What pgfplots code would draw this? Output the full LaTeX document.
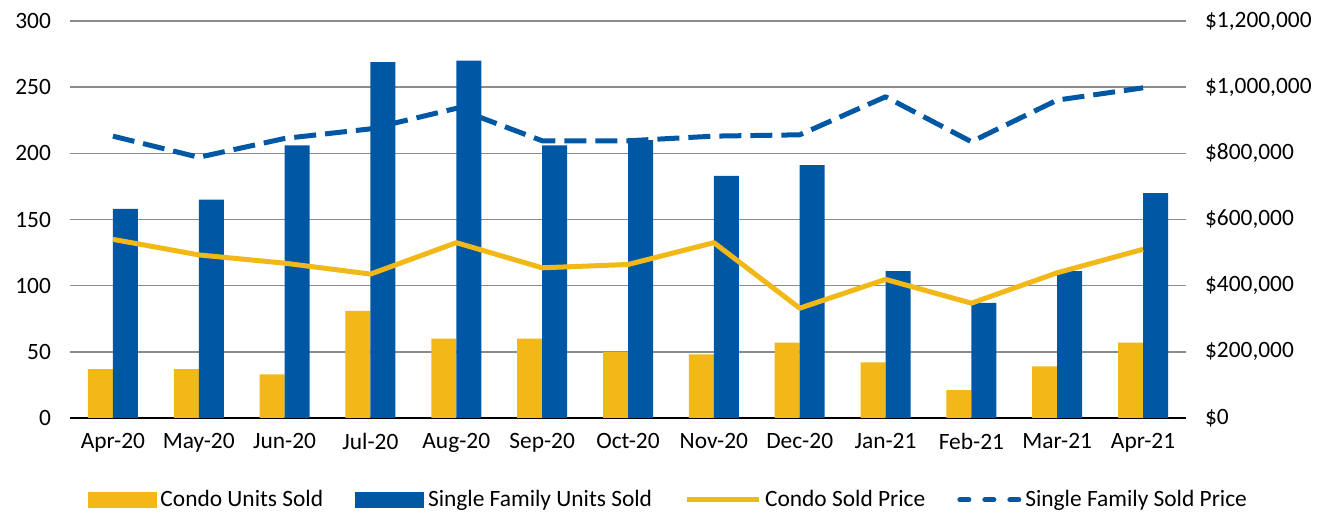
\documentclass[border=0pt]{standalone}
\usepackage{fontspec}
\setmainfont{Carlito}
\usepackage{pgfplots}
\usepackage{pgfplotstable}
\pgfplotsset{compat=1.18}

\definecolor{condo}{HTML}{F2B817}
\definecolor{sfam}{HTML}{0058A5}
\definecolor{gridgray}{HTML}{8C8C8C}
\definecolor{baseline}{HTML}{D9D9D9}

% units sold (left axis) and median sold price (right axis)
\pgfplotstableread{
x condo sf condoprice sfprice
0  37 158 540000 852000
1  37 165 493000 788000
2  33 206 468000 845000
3  81 269 435000 874000
4  60 270 530000 936000
5  60 206 454000 838000
6  50 210 464000 838000
7  48 183 530000 852000
8  57 191 332000 856000
9  42 111 419000 971000
10 21  87 347000 835000
11 39 111 439000 961000
12 57 170 510000 998000
}\salesdata

\begin{document}
\begin{tikzpicture}[font=\fontsize{11.7}{14}\selectfont]
\pgfplotsset{
  every axis/.append style={
    scale only axis, width=558pt, height=198.5pt,
    at={(0,0)}, anchor=south west,
    xmin=-0.5, xmax=12.5,
    major tick length=0pt,
    /pgf/number format/assume math mode=true,
  },
}
\begin{axis}[
  ymin=0, ymax=300, ytick distance=50,
  axis x line*=bottom, axis y line*=left,
  x axis line style={baseline, line width=0.7pt},
  y axis line style={draw=none},
  ymajorgrids, grid style={gridgray, line width=0.7pt},
  xtick={0,...,12},
  xticklabels={Apr-20,May-20,Jun-20,Jul-20,Aug-20,Sep-20,Oct-20,Nov-20,Dec-20,Jan-21,Feb-21,Mar-21,Apr-21},
  xticklabel style={yshift=-4pt},
  yticklabel style={xshift=-6pt},
]
\addplot[ybar, fill=condo, draw=none, bar width=12.5pt, bar shift=-6.25pt] table[x=x, y=condo] {\salesdata};
\addplot[ybar, fill=sfam, draw=none, bar width=12.5pt, bar shift=6.25pt] table[x=x, y=sf] {\salesdata};
\end{axis}

\begin{axis}[
  ymin=0, ymax=1200000, ytick distance=200000,
  axis y line*=right, axis x line=none,
  y axis line style={draw=none},
  scaled y ticks=false,
  yticklabel={\$\pgfmathprintnumber[fixed,precision=0,1000 sep={,}]{\tick}},
  yticklabel style={anchor=west, xshift=6pt},
  legend columns=4,
  legend style={at={(0.537,-0.2065)}, anchor=center, draw=none, fill=none,
    font=\fontsize{11.7}{14}\selectfont,
    /tikz/every even column/.append style={column sep=14pt}},
]
\addlegendimage{legend image code/.code={\fill[condo] (0pt,-3.7pt) rectangle (34pt,3.7pt);}}
\addlegendentry{Condo Units Sold}
\addlegendimage{legend image code/.code={\fill[sfam] (0pt,-3.7pt) rectangle (34pt,3.7pt);}}
\addlegendentry{Single Family Units Sold}
\addplot[condo, line width=2.5pt, line join=round,
  legend image code/.code={\draw[condo, line width=2.5pt] (0pt,0pt) -- (36pt,0pt);}]
  table[x=x, y=condoprice] {\salesdata};
\addlegendentry{Condo Sold Price}
\addplot[sfam, line width=2.5pt, line join=round, dash pattern=on 11pt off 4.5pt,
  legend image code/.code={\draw[sfam, line width=2.5pt, line cap=round, dash pattern=on 4.5pt off 8pt] (1.25pt,0pt) -- (30.75pt,0pt);}]
  table[x=x, y=sfprice] {\salesdata};
\addlegendentry{Single Family Sold Price}
\end{axis}
\pgfresetboundingbox
\path[use as bounding box] (-35pt,-48pt) rectangle (631.5pt,209pt);
\end{tikzpicture}
\end{document}
